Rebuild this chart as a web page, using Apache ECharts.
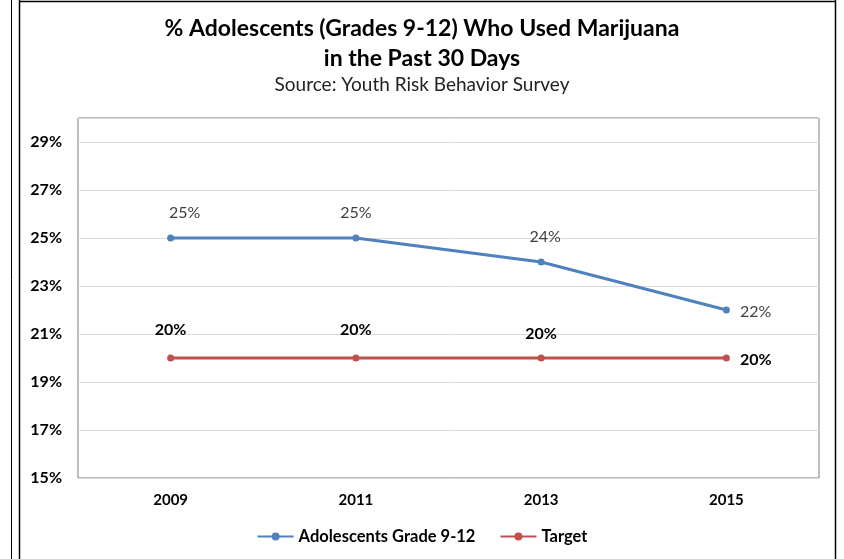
<!DOCTYPE html>
<html><head><meta charset="utf-8">
<script src="https://cdn.jsdelivr.net/npm/echarts@6/dist/echarts.min.js"></script>
<style>html,body{margin:0;padding:0;background:#fff}#c{width:844px;height:559px}</style>
</head><body><div id="c"></div>
<script>
const categories = ['2009', '2011', '2013', '2015'];
const adolescents = [25, 25, 24, 22];
const target = [20, 20, 20, 20];
const seriesNames = ['Adolescents Grade 9-12', 'Target'];
const yMin = 15, yMax = 30, yStep = 2;

const FONT = 'Lato, "Open Sans", sans-serif';
const chart = echarts.init(document.getElementById('c'));

function labelFor(i, n, extra) {
  if (i === n - 1) return { position: 'right', distance: 10, offset: [0, 2] };
  return extra[i] || {};
}

chart.setOption({
  animation: false,
  backgroundColor: '#fff',
  title: [
    { text: '% Adolescents (Grades 9-12) Who Used Marijuana\nin the Past 30 Days', left: 'center', top: 9,
      textStyle: { fontFamily: FONT, fontSize: 23, fontWeight: 'bold', color: '#000', lineHeight: 30 } },
    { text: 'Source: Youth Risk Behavior Survey', left: 'center', top: 70,
      textStyle: { fontFamily: FONT, fontSize: 19, fontWeight: 'normal', color: '#222' } }
  ],
  grid: { left: 78, right: 25, top: 118, bottom: 81, show: true, borderColor: '#7f7f7f', borderWidth: 1, containLabel: false },
  xAxis: {
    type: 'category', data: categories, boundaryGap: true,
    axisLine: { show: false }, axisTick: { show: false },
    axisLabel: { margin: 15, fontFamily: FONT, fontSize: 15, fontWeight: 'bold', color: '#000' }
  },
  yAxis: {
    type: 'value', min: yMin, max: yMax, interval: yStep,
    axisLine: { show: false }, axisTick: { show: false },
    splitLine: { lineStyle: { color: '#d9d9d9', width: 1 } },
    axisLabel: { margin: 16, fontFamily: FONT, fontSize: 16, fontWeight: 'bold', color: '#000',
      formatter: v => (v === yMax ? '' : v + '%') }
  },
  legend: {
    bottom: 9, left: 'center', itemWidth: 36, itemHeight: 10, itemGap: 24,
    textStyle: { fontFamily: FONT, fontSize: 16.5, fontWeight: 'bold', color: '#000' },
    data: seriesNames
  },
  series: [
    {
      name: seriesNames[0], type: 'line', color: '#4f81bd',
      symbol: 'circle', symbolSize: 7,
      lineStyle: { width: 3 },
      label: { show: true, position: 'top', distance: 14, fontFamily: FONT, fontSize: 16, color: '#404040',
        formatter: p => p.value + '%' },
      data: adolescents.map((v, i) => ({ value: v, label: labelFor(i, adolescents.length, { 0: { offset: [14, 0] }, 2: { offset: [4, 0] } }) }))
    },
    {
      name: seriesNames[1], type: 'line', color: '#c0504d',
      symbol: 'circle', symbolSize: 7,
      lineStyle: { width: 3 },
      label: { show: true, position: 'top', distance: 17, fontFamily: FONT, fontSize: 16, fontWeight: 'bold', color: '#000',
        formatter: p => p.value + '%' },
      data: target.map((v, i) => ({ value: v, label: labelFor(i, target.length, { 2: { distance: 13 } }) }))
    }
  ],
  graphic: [
    { type: 'line', shape: { x1: 11.5, y1: 0, x2: 11.5, y2: 559 }, style: { stroke: '#000', lineWidth: 1 } },
    { type: 'line', shape: { x1: 19.5, y1: 0, x2: 19.5, y2: 559 }, style: { stroke: '#000', lineWidth: 1.5 } },
    { type: 'line', shape: { x1: 19, y1: 1.5, x2: 836, y2: 1.5 }, style: { stroke: '#000', lineWidth: 1.5 } },
    { type: 'line', shape: { x1: 835.5, y1: 0, x2: 835.5, y2: 559 }, style: { stroke: '#000', lineWidth: 1.5 } }
  ]
});
</script></body></html>
